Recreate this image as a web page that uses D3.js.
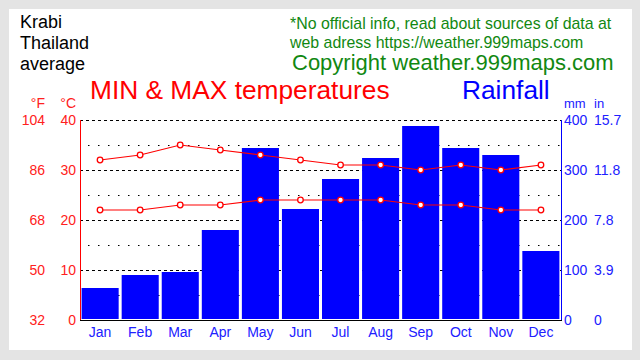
<!DOCTYPE html>
<html><head><meta charset="utf-8">
<script src="https://cdn.jsdelivr.net/npm/d3@7"></script>
<style>body{margin:0;background:#e4e4e4;}svg{display:block;font-family:"Liberation Sans",Arial,sans-serif;}</style>
</head><body>
<svg id="c" width="640" height="360"></svg>
<script>
const months = ["Jan","Feb","Mar","Apr","May","Jun","Jul","Aug","Sep","Oct","Nov","Dec"];
const rainMm = [64,90,96,180,344,222,282,324,388,344,330,138];
const maxC = [32,33,35,34,33,32,31,31,30,31,30,31];
const minC = [22,22,23,23,24,24,24,24,23,23,22,22];
const cTicks = [0,10,20,30,40];
const fTicks = ["32","50","68","86","104"];
const mmTicks = [0,100,200,300,400];
const inTicks = ["0","3.9","7.8","11.8","15.7"];

const svg = d3.select("#c");
svg.append("rect").attr("x",0).attr("y",0).attr("width",640).attr("height",360).attr("fill","#e4e4e4");
svg.append("rect").attr("x",9).attr("y",9).attr("width",623).attr("height",341).attr("fill","#ffffff");

const x0 = 80, x1 = 561, yTop = 120, yBot = 320;
const x = d3.scaleBand().domain(months).range([x0, x1]).paddingInner(0.075).paddingOuter(0.04);
const xc = d3.scalePoint().domain(months).range([x0, x1]).padding(0.5);
const yC = d3.scaleLinear().domain([0,40]).range([yBot, yTop]);
const yR = d3.scaleLinear().domain([0,400]).range([yBot, yTop]);

// grid
const g = svg.append("g");
[10,20,30,40].forEach(v => g.append("line").attr("x1",x0).attr("x2",x1).attr("y1",yC(v)+0.5).attr("y2",yC(v)+0.5)
  .attr("stroke","#000").attr("stroke-dasharray","3,3"));
[5,15,25,35].forEach(v => g.append("line").attr("x1",x0+8).attr("x2",x1).attr("y1",yC(v)+0.5).attr("y2",yC(v)+0.5)
  .attr("stroke","#000").attr("stroke-dasharray","1.5,8.5"));

// bars
svg.append("g").selectAll("rect").data(months).join("rect")
  .attr("x", d => x(d)).attr("width", x.bandwidth())
  .attr("y", (d,i) => yR(rainMm[i])).attr("height", (d,i) => yR(0) - 1 - yR(rainMm[i]))
  .attr("fill","#0000ff");

// lines
const line = d3.line().x((d,i) => xc(months[i])).y(d => yC(d));
[maxC, minC].forEach(s => {
  svg.append("path").attr("d", line(s)).attr("fill","none").attr("stroke","#ff0000").attr("stroke-width",1.2);
  svg.append("g").selectAll("circle").data(s).join("circle")
    .attr("cx",(d,i)=>xc(months[i])).attr("cy",d=>yC(d)).attr("r",2.8)
    .attr("fill","#fff").attr("stroke","#ff0000").attr("stroke-width",1.3);
});

// axes lines
svg.append("line").attr("x1",x0+0.5).attr("x2",x0+0.5).attr("y1",yTop).attr("y2",yBot+1).attr("stroke","#ff0000");
svg.append("line").attr("x1",x1+0.5).attr("x2",x1+0.5).attr("y1",yTop).attr("y2",yBot+1).attr("stroke","#0000ff");
svg.append("line").attr("x1",x0).attr("x2",x1+1).attr("y1",yBot+0.5).attr("y2",yBot+0.5).attr("stroke","#000");

// left tick labels
const lt = svg.append("g").attr("font-size",14).attr("fill","#ff2020");
cTicks.forEach((v,i) => {
  lt.append("text").attr("x",76).attr("y",yC(v)+5).attr("text-anchor","end").text(v);
  lt.append("text").attr("x",45).attr("y",yC(v)+5).attr("text-anchor","end").text(fTicks[i]);
});
lt.append("text").attr("x",45).attr("y",108).attr("text-anchor","end").text("°F");
lt.append("text").attr("x",76).attr("y",108).attr("text-anchor","end").text("°C");

// right tick labels
const rt = svg.append("g").attr("font-size",14).attr("fill","#2020ff");
mmTicks.forEach((v,i) => {
  rt.append("text").attr("x",564).attr("y",yR(v)+5).text(v);
  rt.append("text").attr("x",594).attr("y",yR(v)+5).text(inTicks[i]);
});
rt.append("text").attr("x",564).attr("y",108).attr("font-size",13).text("mm");
rt.append("text").attr("x",594).attr("y",108).attr("font-size",13).text("in");

// x labels
svg.append("g").attr("font-size",14).attr("fill","#2020ff").selectAll("text").data(months).join("text")
  .attr("x", d => xc(d)).attr("y", 337).attr("text-anchor","middle").text(d => d);

// titles
const tl = svg.append("g").attr("font-size",18).attr("fill","#000");
["Krabi","Thailand","average"].forEach((t,i) => tl.append("text").attr("x",20).attr("y",28+i*21).text(t));
svg.append("text").attr("x",90).attr("y",99).attr("font-size",26.3).attr("fill","#ff0000").text("MIN & MAX temperatures");
svg.append("text").attr("x",462).attr("y",99).attr("font-size",26.3).attr("fill","#0000ff").text("Rainfall");
const gr = svg.append("g").attr("fill","#118811");
gr.append("text").attr("x",290).attr("y",29).attr("font-size",15.9).text("*No official info, read about sources of data at");
gr.append("text").attr("x",290).attr("y",48).attr("font-size",15.9).text("web adress https://weather.999maps.com");
gr.append("text").attr("x",292).attr("y",70).attr("font-size",22).text("Copyright weather.999maps.com");
</script>
</body></html>
